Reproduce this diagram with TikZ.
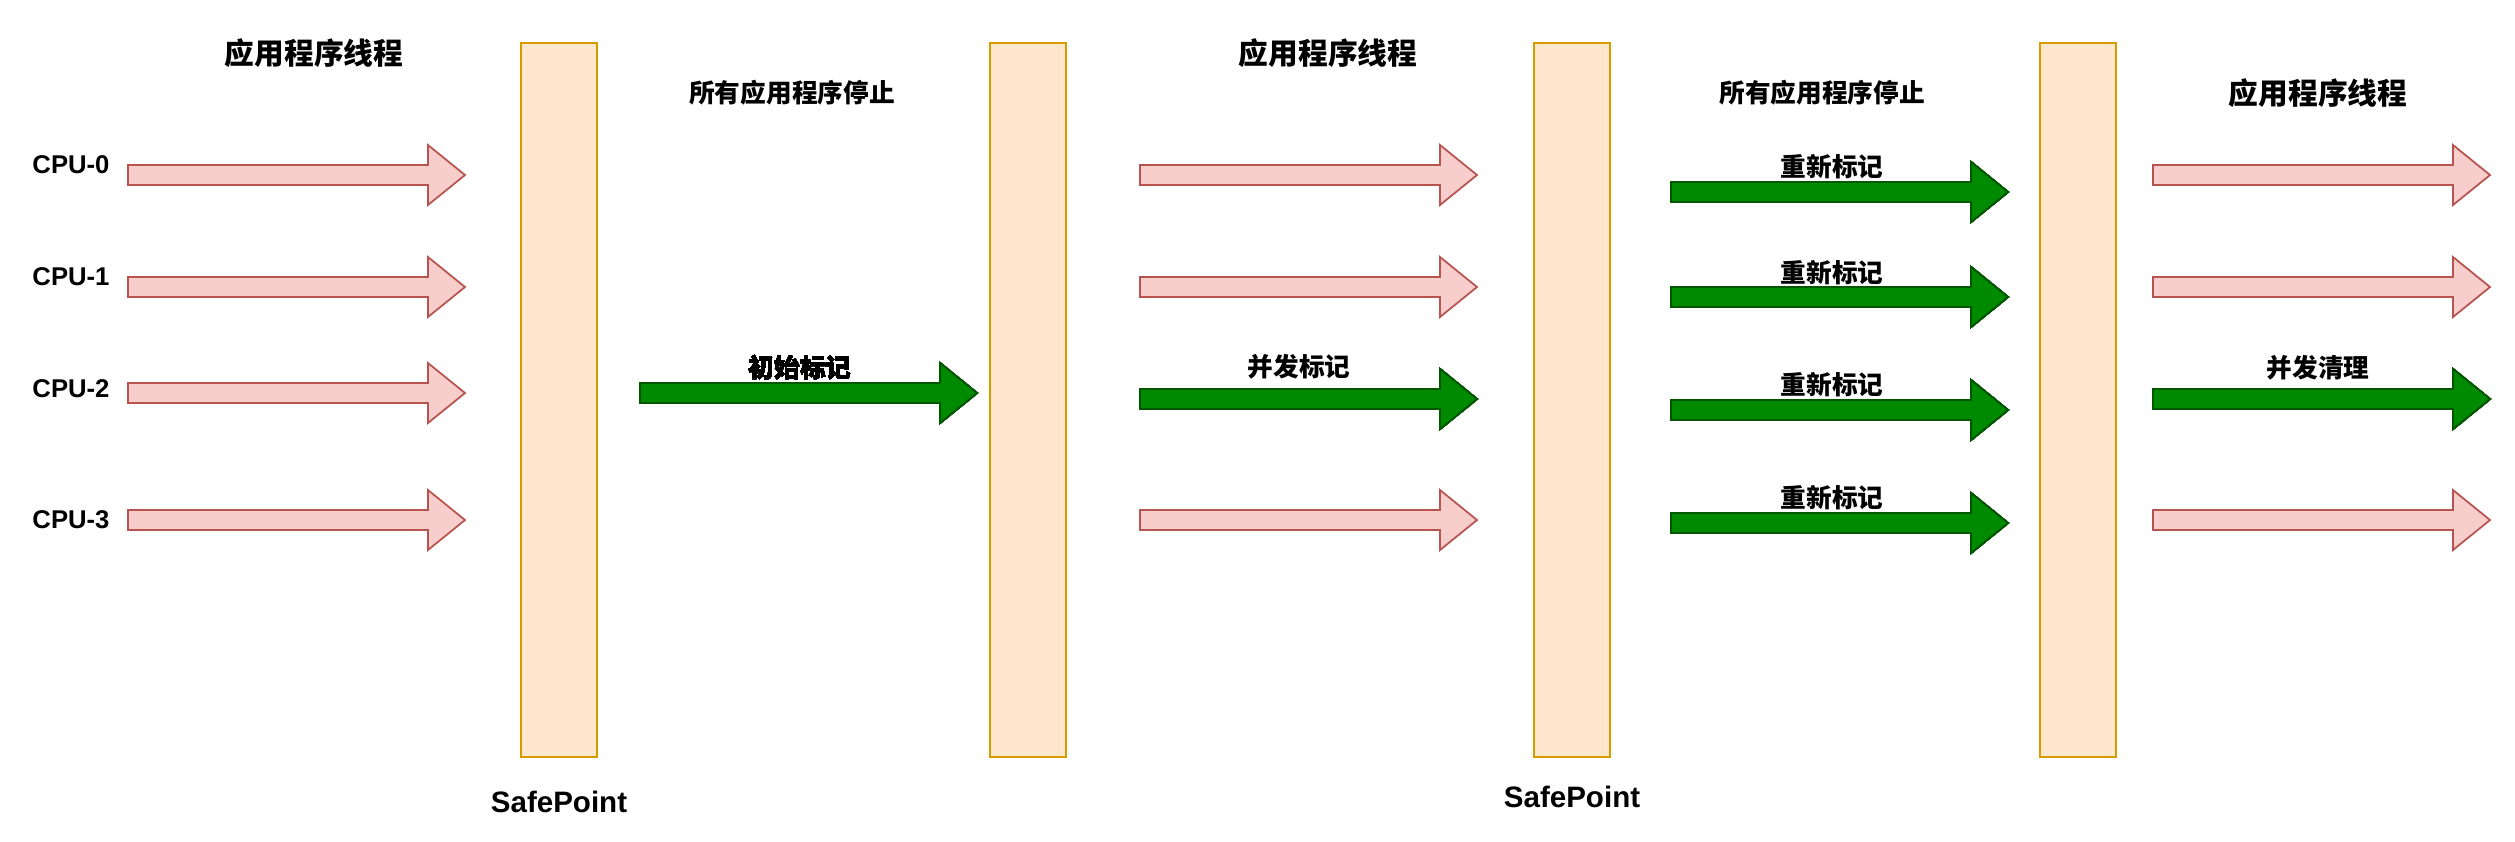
\documentclass[tikz,border=0pt]{standalone}
\usepackage{fontspec}
\setmainfont{Liberation Sans}
\newfontfamily\cjk{Noto Sans CJK SC}
\usetikzlibrary{positioning}
\definecolor{pinkfill}{HTML}{F8CECC}
\definecolor{pinkline}{HTML}{B85450}
\definecolor{gcfill}{HTML}{008A00}
\definecolor{gcline}{HTML}{005700}
\definecolor{barfill}{HTML}{FFE6CC}
\definecolor{barline}{HTML}{D79B00}
\tikzset{
  spbar/.style={draw=barline,fill=barfill,line width=0.6pt,minimum width=0.76cm,minimum height=7.14cm,inner sep=0pt},
  apparrow/.style={draw=pinkline,fill=pinkfill,line width=0.5pt},
  gcarrow/.style={draw=gcline,fill=gcfill,line width=0.5pt},
  title/.style={font=\cjk\bfseries\fontsize{8.45}{10}\selectfont},
  phase/.style={font=\cjk\bfseries\fontsize{7.3}{9}\selectfont},
  cpu/.style={font=\bfseries\fontsize{7.3}{9}\selectfont},
  sptext/.style={font=\bfseries\fontsize{8.4}{10}\selectfont}
}
% block arrow: style, left end x, centre y (in px)
\newcommand{\blockarrow}[3]{%
  \draw[#1] (#2,#3-10) -- ++(300,0) -- ++(0,-20) -- ++(37,30) -- ++(-37,30) -- ++(0,-20) -- ++(-300,0) -- cycle;}

\begin{document}
\begin{tikzpicture}[x=0.01cm,y=-0.01cm]
\useasboundingbox (0,0) rectangle (2515,841);
% safepoint bars
\node[spbar] (sp1) at (559,400) {};
\node[spbar] (sp2) at (1028,400) {};
\node[spbar] (sp3) at (1572,400) {};
\node[spbar] (sp4) at (2078,400) {};
\node[sptext] (spt1) at (559,802) {SafePoint};
\node[sptext] (spt3) at (1572,797) {SafePoint};
% headings
\node[title] (t1) at (314,53) {应用程序线程};
\node[title] (t2) at (1328,53) {应用程序线程};
\node[title] (t3) at (2318,93) {应用程序线程};
\node[phase] (stop1) at (792,93) {所有应用程序停止};
\node[phase] (stop2) at (1822,93) {所有应用程序停止};
\foreach \i/\y in {0/165,1/277,2/389,3/520}
    \node[cpu] (cpu\i) at (71,\y) {CPU-\i};
% application threads
\foreach \x/\y in {128/175,128/287,128/393,128/520,1140/175,1140/287,1140/520,2153/175,2153/287,2153/520}
    \blockarrow{apparrow}{\x}{\y}
% gc threads
\foreach \x/\y in {640/393,1140/399,2153/399,1671/192,1671/297,1671/410,1671/523}
    \blockarrow{gcarrow}{\x}{\y}
\node[phase] (initmark) at (800,368) {初始标记};
\node[phase] (concmark) at (1299,367) {并发标记};
\node[phase] (sweep) at (2318,368) {并发清理};
\foreach \i/\y in {1/167,2/273,3/385,4/498}
    \node[phase] (remark\i) at (1832,\y) {重新标记};
\end{tikzpicture}
\end{document}
